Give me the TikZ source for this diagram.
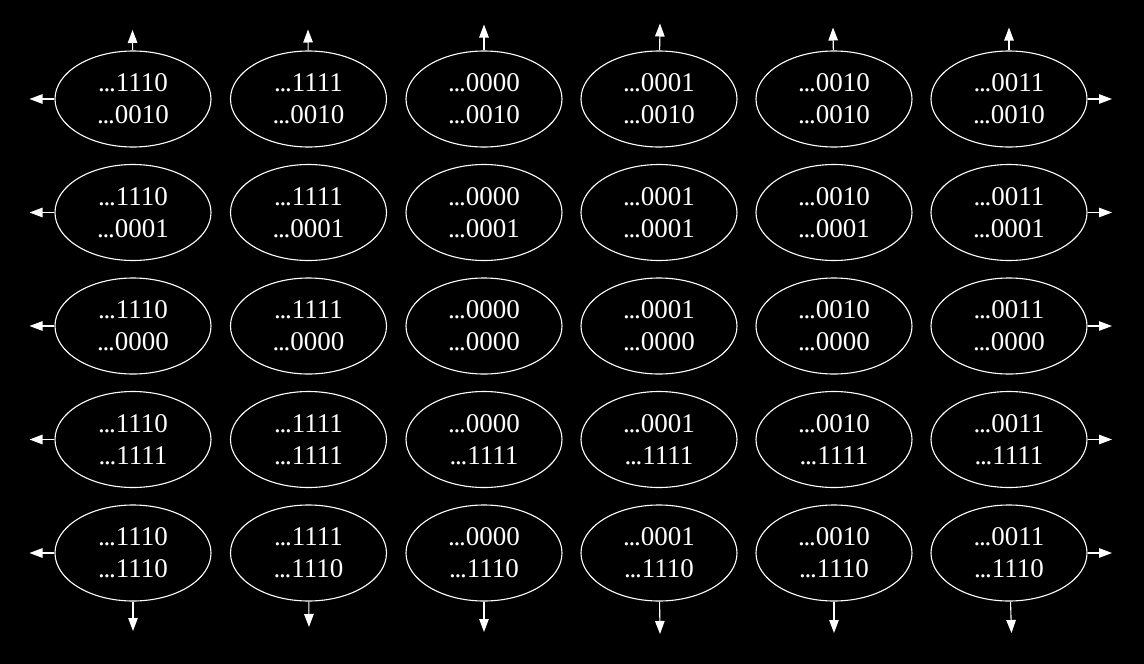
\documentclass[tikz,border=0pt]{standalone}
\usepackage{fontspec}
\setmainfont{Liberation Serif}
\usetikzlibrary{positioning, arrows.meta, shapes.geometric}

\newcommand{\tightdots}{.\kern-1.2pt.\kern-1.2pt.}

\begin{document}
\begin{tikzpicture}[
    x=1pt, y=-1pt,
    cell/.style={ellipse, draw=white, text=white, line width=1.1pt, minimum width=156pt, minimum height=96pt, inner sep=0pt, align=center, font=\fontsize{27}{32}\selectfont},
    link/.style={draw=white, line width=1.1pt},
    exit/.style={link, -{Triangle[length=13pt, width=9.5pt]}, white}
]

% Background
\fill[black] (0,0) rectangle (1144,664);

% === Grid of cells ===
\foreach \c/\cx/\clab in {1/133/1110, 2/308.5/1111, 3/484/0000, 4/659/0001, 5/834/0010, 6/1009/0011}
  \foreach \r/\ry/\rlab in {1/99/0010, 2/212.5/0001, 3/326/0000, 4/439.5/1111, 5/553/1110}
    \node[cell] (n\c\r) at (\cx, \ry) {\tightdots\clab\\\tightdots\rlab};

% Horizontal links
\foreach \r in {1,...,5}
  \foreach \c [evaluate=\c as \d using int(\c+1)] in {1,...,5}
    \draw[link] (n\c\r) -- (n\d\r);

% Vertical links
\foreach \c in {1,...,6}
  \foreach \r [evaluate=\r as \s using int(\r+1)] in {1,...,4}
    \draw[link] (n\c\r) -- (n\c\s);

% === Arrows leaving the grid ===
% top and bottom ends
\foreach \c/\tx/\ty/\bx/\by in {1/132.5/30/133/631, 2/308/29.5/309/627, 3/484/24.5/484/632,
                                4/660/23.5/660/634, 5/833/27.5/834/633, 6/1009/27.5/1011.5/633} {
  \coordinate (t\c) at (\tx, \ty);
  \coordinate (b\c) at (\bx, \by);
  \draw[exit] (n\c1) -- (t\c);
  \draw[exit] (n\c5) -- (b\c);
}

% left and right ends
\foreach \r/\ry in {1/99, 2/212.5, 3/326, 4/439.5, 5/553} {
  \coordinate (l\r) at (29.5, \ry);
  \coordinate (r\r) at (1112, \ry);
  \draw[exit] (n1\r) -- (l\r);
  \draw[exit] (n6\r) -- (r\r);
}

\end{tikzpicture}
\end{document}
